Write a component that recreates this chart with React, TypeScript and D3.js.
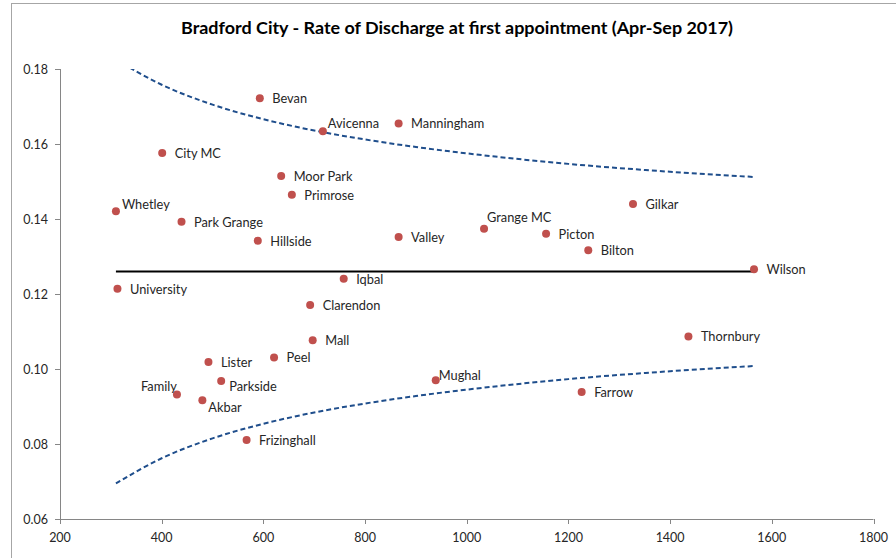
import React from "react";
import * as d3 from "d3";

// ---- Data ----
const practices = [
  "Bevan", "Avicenna", "Manningham", "City MC", "Moor Park", "Primrose", "Whetley",
  "Park Grange", "Hillside", "Valley", "Grange MC", "Picton", "Bilton", "Gilkar",
  "Wilson", "Iqbal", "University", "Clarendon", "Mall", "Peel", "Lister", "Parkside",
  "Family", "Akbar", "Frizinghall", "Mughal", "Thornbury", "Farrow",
];
const appointments = [
  593, 717, 866, 401, 635, 656, 310,
  439, 589, 866, 1034, 1156, 1239, 1327,
  1565, 758, 313, 692, 697, 621, 492, 517,
  430, 480, 567, 939, 1436, 1226,
];
const dischargeRates = [
  0.1722, 0.1634, 0.1655, 0.1576, 0.1515, 0.1465, 0.1421,
  0.1393, 0.1342, 0.1352, 0.1374, 0.1361, 0.1317, 0.144,
  0.1266, 0.1241, 0.1214, 0.1171, 0.1077, 0.1031, 0.1019, 0.0968,
  0.0932, 0.0917, 0.0811, 0.097, 0.1087, 0.0939,
];
const meanX = [310, 1566];
const meanRate = [0.126, 0.126];
const limitX = [310, 400, 500, 600, 700, 800, 900, 1000, 1200, 1400, 1566];
const upperLimit = [0.1825, 0.1758, 0.1705, 0.1666, 0.1636, 0.1612, 0.1592, 0.1575, 0.1547, 0.1526, 0.1512];
const lowerLimit = [0.0695, 0.0762, 0.0815, 0.0854, 0.0884, 0.0908, 0.0928, 0.0945, 0.0973, 0.0994, 0.1008];
const xTicks = [200, 400, 600, 800, 1000, 1200, 1400, 1600, 1800];
const yTicks = [0.06, 0.08, 0.1, 0.12, 0.14, 0.16, 0.18];
const title = "Bradford City - Rate of Discharge at first appointment (Apr-Sep 2017)";

// ---- Layout ----
const W = 896;
const H = 558;
const plot = { left: 60, right: 873.5, top: 69, bottom: 519 };
const FONT = "Lato, 'Open Sans', sans-serif";

// label placement (dx, dy, anchor) per practice name
const labelPlace: Record<string, [number, number, string]> = {
  Avicenna: [5, -8, "start"],
  Whetley: [6, -7, "start"],
  "Grange MC": [3, -11, "start"],
  Mughal: [3, -5, "start"],
  Family: [0, -8, "end"],
  Akbar: [6, 7, "start"],
  Parkside: [8, 5, "start"],
};

export default function App() {
  const x = d3.scaleLinear().domain([200, 1800]).range([plot.left, plot.right]);
  const y = d3.scaleLinear().domain([0.06, 0.18]).range([plot.bottom, plot.top]);

  const limitLine = d3
    .line<[number, number]>()
    .x((d) => x(d[0]))
    .y((d) => y(d[1]))
    .curve(d3.curveMonotoneX);
  const upperPath = limitLine(limitX.map((v, i) => [v, upperLimit[i]] as [number, number])) || "";
  const lowerPath = limitLine(lowerLimit.map((v, i) => [limitX[i], v] as [number, number])) || "";
  const meanPath =
    d3.line<[number, number]>().x((d) => x(d[0])).y((d) => y(d[1]))(
      meanX.map((v, i) => [v, meanRate[i]] as [number, number])
    ) || "";

  const axisColor = "#868686";
  const textColor = "#262626";

  return (
    <svg
      width={W}
      height={H}
      style={{ position: "absolute", left: 0, top: 0, background: "#fff" }}
      fontFamily={FONT}
    >
      <defs>
        <clipPath id="plotClip">
          <rect x={plot.left} y={plot.top} width={plot.right - plot.left} height={plot.bottom - plot.top} />
        </clipPath>
      </defs>
      <rect x={0} y={0} width={W} height={H} fill="#fff" />
      <rect x={11.5} y={3.5} width={W + 20} height={H + 20} fill="none" stroke="#a6a6a6" strokeWidth={1} />

      <text
        x={457}
        y={34}
        textAnchor="middle"
        fontSize={17}
        fontWeight="bold"
        fill="#000"
        textLength={552}
        lengthAdjust="spacingAndGlyphs"
      >
        {title}
      </text>

      {/* Axes */}
      <line x1={plot.left + 0.5} x2={plot.left + 0.5} y1={plot.top} y2={plot.bottom} stroke={axisColor} />
      <line x1={plot.left} x2={plot.right} y1={plot.bottom + 0.5} y2={plot.bottom + 0.5} stroke={axisColor} />
      {yTicks.map((t) => (
        <g key={"y" + t}>
          <line x1={plot.left - 5} x2={plot.left} y1={Math.round(y(t)) + 0.5} y2={Math.round(y(t)) + 0.5} stroke={axisColor} />
          <text x={48} y={y(t) + 4.5} textAnchor="end" fontSize={12.5} fill={textColor}>
            {t.toFixed(2)}
          </text>
        </g>
      ))}
      {xTicks.map((t) => (
        <g key={"x" + t}>
          <line x1={Math.round(x(t)) + 0.5} x2={Math.round(x(t)) + 0.5} y1={plot.bottom} y2={plot.bottom + 5} stroke={axisColor} />
          <text x={x(t)} y={541.5} textAnchor="middle" fontSize={12.5} fill={textColor}>
            {t}
          </text>
        </g>
      ))}

      {/* Control limits */}
      <g clipPath="url(#plotClip)">
        <path d={upperPath} fill="none" stroke="#1f4e8c" strokeWidth={2} strokeDasharray="5,3" />
        <path d={lowerPath} fill="none" stroke="#1f4e8c" strokeWidth={2} strokeDasharray="5,3" />
      </g>
      <path d={meanPath} fill="none" stroke="#000" strokeWidth={2} />

      {/* Points */}
      {practices.map((name, i) => {
        const px = x(appointments[i]);
        const py = y(dischargeRates[i]);
        const [dx, dy, anchor] = labelPlace[name] || [12.5, 0.5, "start"];
        return (
          <g key={name}>
            <circle cx={px} cy={py} r={4} fill="#c0504d" />
            <text x={px + dx} y={py + dy + 4.5} textAnchor={anchor as any} fontSize={12.8} fill={textColor}>
              {name}
            </text>
          </g>
        );
      })}
    </svg>
  );
}
